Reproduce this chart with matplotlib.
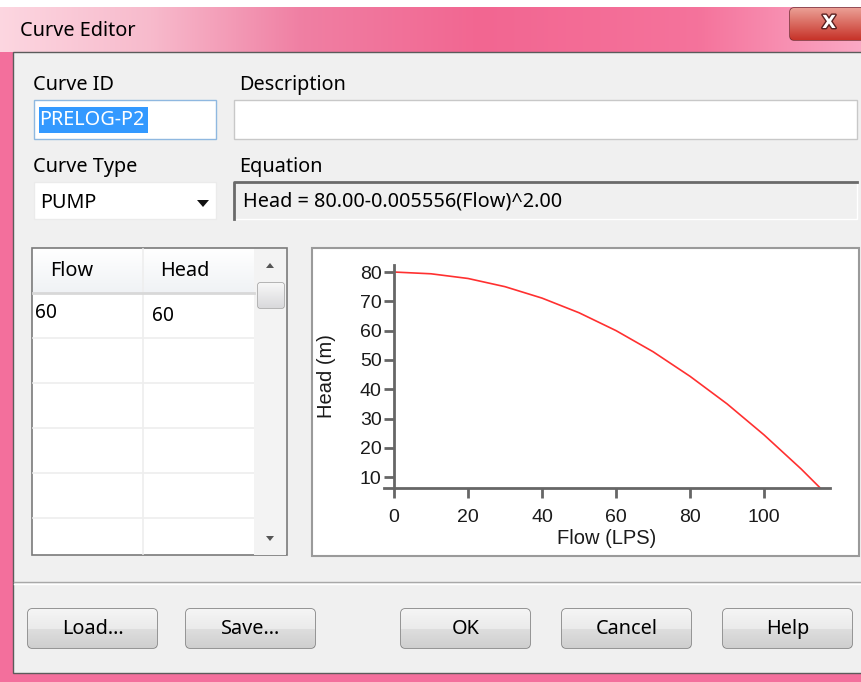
import numpy as np
import matplotlib
matplotlib.use("Agg")
import matplotlib.pyplot as plt
from matplotlib.patches import Rectangle, FancyBboxPatch, Polygon
import matplotlib.patheffects as pe

# ---- data ----
flow = [0, 10, 20, 30, 40, 50, 60, 70, 80, 90, 100, 110, 115]
head = [80.0, 79.4, 77.8, 75.0, 71.1, 66.1, 60.0, 52.8, 44.4, 35.0, 24.4, 12.8, 6.5]
x_ticks = [0, 20, 40, 60, 80, 100]
y_ticks = [10, 20, 30, 40, 50, 60, 70, 80]
table_flow = ["60"]
table_head = ["60"]
buttons = ["Load...", "Save...", "OK", "Cancel", "Help"]
curve_id = "PRELOG-P2"
curve_type = "PUMP"
equation = "Head = 80.00-0.005556(Flow)^2.00"

UI = "Noto Sans"
FS = 14.3
W, H = 862, 682

fig = plt.figure(figsize=(W / 100, H / 100), dpi=100)
bg = fig.add_axes([0, 0, 1, 1])
bg.set_xlim(0, W)
bg.set_ylim(H, 0)
bg.axis("off")


def rect(x0, y0, x1, y1, fc, ec="none", lw=1.0, z=1):
    r = Rectangle((x0, y0), x1 - x0, y1 - y0, facecolor=fc, edgecolor=ec, lw=lw, zorder=z)
    bg.add_patch(r)
    return r


def vgrad(x0, y0, x1, y1, c_top, c_bot, clip=None, z=2):
    g = np.linspace(0, 1, 64)[:, None, None]
    arr = np.array(c_top)[None, None, :] * (1 - g) + np.array(c_bot)[None, None, :] * g
    arr = np.repeat(arr, 2, axis=1)
    im = bg.imshow(arr, extent=(x0, x1, y1, y0), aspect="auto", zorder=z, interpolation="bilinear")
    if clip is not None:
        im.set_clip_path(clip)
    return im


# window frame (pink)
rect(0, 0, W, H, "#f36f9c", z=0)
rect(0, 0, W, 7, "#ffffff", z=0.5)
xs = np.linspace(0, W, 200)
stops_x = [0, 150, 300, 480, 700, 862]
stops_c = [(0.99, 0.84, 0.88), (0.97, 0.73, 0.80), (0.94, 0.50, 0.64),
           (0.95, 0.40, 0.57), (0.96, 0.45, 0.61), (0.98, 0.66, 0.77)]
row = np.stack([np.interp(xs, stops_x, [c[i] for c in stops_c]) for i in range(3)], axis=-1)
bg.imshow(row[None, :, :], extent=(0, W, 52, 7), aspect="auto", zorder=0.6, interpolation="bilinear")
bg.text(20, 31, "Curve Editor", fontsize=FS, family=UI, va="center", ha="left", color="#000000", zorder=3)

# close button
cb = FancyBboxPatch((790, 8), 90, 32, boxstyle="round,pad=0,rounding_size=4",
                    facecolor="#c8433b", edgecolor="#6b2a2a", lw=1, zorder=2)
bg.add_patch(cb)
vgrad(790, 8, 880, 40, (0.92, 0.62, 0.58), (0.78, 0.20, 0.16), clip=cb, z=2.1)
bg.text(829, 23, "X", fontsize=13, fontweight="bold", family="DejaVu Sans", color="white",
        ha="center", va="center", zorder=3,
        path_effects=[pe.withStroke(linewidth=2, foreground="#5a2020")])

# dialog body
rect(13, 52, W + 5, 673, "#f0f0f0", ec="#5b5b5b", lw=1, z=1)

# labels
lab = dict(fontsize=FS, family=UI, va="center", ha="left", color="#000000", zorder=3)
bg.text(33, 85, "Curve ID", **lab)
bg.text(239, 85, "Description", **lab)
bg.text(33, 167, "Curve Type", **lab)
bg.text(239, 167, "Equation", **lab)

# curve id box (focused)
rect(34, 100, 216, 139, "white", ec="#8fb8e0", lw=1, z=2)
rect(39, 107, 148, 133, "#3399ff", z=2.5)
bg.text(39, 120, curve_id, fontsize=FS, family=UI, va="center", ha="left", color="white", zorder=3)
# description box
rect(234, 100, 857, 139, "white", ec="#c8c8c8", lw=1, z=2)
# curve type combo
rect(34, 182, 216, 219, "white", ec="#ebebeb", lw=1, z=2)
bg.text(40, 203, curve_type, fontsize=FS, family=UI, va="center", ha="left", color="#000000", zorder=3)
bg.add_patch(Polygon([[197, 200], [209, 200], [203, 207]], closed=True, facecolor="#111111", zorder=3))
# equation box (sunken)
rect(234, 182, 857, 219, "#f0f0f0", ec="#ffffff", lw=1, z=2)
bg.plot([234, 234, 857], [219, 182, 182], color="#6a6a6a", lw=2, zorder=2.5)
bg.text(243, 202, equation, fontsize=FS, family=UI, va="center", ha="left", color="#000000", zorder=3)

# ---- table on the left ----
rect(32, 248, 287, 555, "white", ec="#7a7a7a", lw=1.2, z=2)
vgrad(33, 249, 254, 293, (1.0, 1.0, 1.0), (0.94, 0.95, 0.96), z=2.1)
bg.plot([33, 254], [293, 293], color="#d8d8d8", lw=2, zorder=2.3)
for yl in [338, 383, 428, 473, 518]:
    bg.plot([33, 254], [yl, yl], color="#eeeeee", lw=1.2, zorder=2.2)
bg.plot([143, 143], [249, 554], color="#eeeeee", lw=1.2, zorder=2.2)
bg.text(72, 271, "Flow", fontsize=FS, family=UI, va="center", ha="center", color="#000000", zorder=3)
bg.text(185, 271, "Head", fontsize=FS, family=UI, va="center", ha="center", color="#000000", zorder=3)
for i, (f, h) in enumerate(zip(table_flow, table_head)):
    bg.text(35, 313 + 45 * i, f, fontsize=13.8, family=UI, va="center", ha="left", color="#000000", zorder=3)
    bg.text(152, 316 + 45 * i, h, fontsize=13.8, family=UI, va="center", ha="left", color="#000000", zorder=3)
# scrollbar
rect(254, 249, 286.5, 554.5, "#f3f3f3", z=2.2)
bg.add_patch(Polygon([[266, 268], [274, 268], [270, 263]], closed=True, facecolor="#555555", zorder=3))
bg.add_patch(Polygon([[266, 536], [274, 536], [270, 541]], closed=True, facecolor="#555555", zorder=3))
th = FancyBboxPatch((258, 283), 26, 25, boxstyle="round,pad=0,rounding_size=2",
                    facecolor="#e8e8e8", edgecolor="#9a9a9a", lw=1, zorder=2.6)
bg.add_patch(th)
vgrad(258, 283, 284, 308, (0.97, 0.97, 0.97), (0.85, 0.85, 0.86), clip=th, z=2.7)

# ---- chart panel ----
rect(312, 248, 859, 556, "white", ec="#9a9a9a", lw=1.5, z=2)

# separator and buttons
bg.plot([14, W], [582, 582], color="#a8a8a8", lw=1, zorder=2)
bg.plot([14, W], [583.5, 583.5], color="#ffffff", lw=1, zorder=2)
bx = [28, 186, 401, 562, 723]
for x0, name in zip(bx, buttons):
    b = FancyBboxPatch((x0, 609), 129, 39, boxstyle="round,pad=0,rounding_size=4",
                       facecolor="#e5e5e5", edgecolor="#707070", lw=1, zorder=2)
    bg.add_patch(b)
    vgrad(x0, 609, x0 + 129, 629, (0.96, 0.96, 0.96), (0.92, 0.92, 0.92), clip=b, z=2.1)
    vgrad(x0, 629, x0 + 129, 648, (0.87, 0.87, 0.87), (0.81, 0.81, 0.81), clip=b, z=2.1)
    bg.text(x0 + 64.5, 629, name, fontsize=FS, family=UI, va="center", ha="center",
            color="#000000", zorder=3)

# ---- the pump curve ----
ax = fig.add_axes([384 / W, 1 - 488 / H, (830 - 384) / W, (488 - 265) / H])
ax.patch.set_alpha(0)
ax.plot(flow, head, color="#ff3030", lw=1.2)
ax.set_xlim(-2.7, 117.8)
ax.set_ylim(6.3, 82.4)
ax.spines["top"].set_visible(False)
ax.spines["right"].set_visible(False)
ax.spines["left"].set_position(("data", 0))
for s in ["left", "bottom"]:
    ax.spines[s].set_color("#666666")
    ax.spines[s].set_linewidth(2)
ax.set_xticks(x_ticks)
ax.set_yticks(y_ticks)
ax.tick_params(axis="both", length=7, width=2, color="#666666", labelsize=14,
               labelcolor="#1a1a1a")
ax.tick_params(axis="x", pad=8)
ax.tick_params(axis="y", pad=2)
for t in ax.get_xticklabels() + ax.get_yticklabels():
    t.set_family("Liberation Sans")
ax.set_xlabel("Flow (LPS)", fontsize=14.5, family="Liberation Sans", color="#1a1a1a", labelpad=2)
ax.set_ylabel("Head (m)", fontsize=14.5, family="Liberation Sans", color="#1a1a1a")
ax.yaxis.set_label_coords(-0.108, 0.5)

fig.savefig("out.png", dpi=100)
